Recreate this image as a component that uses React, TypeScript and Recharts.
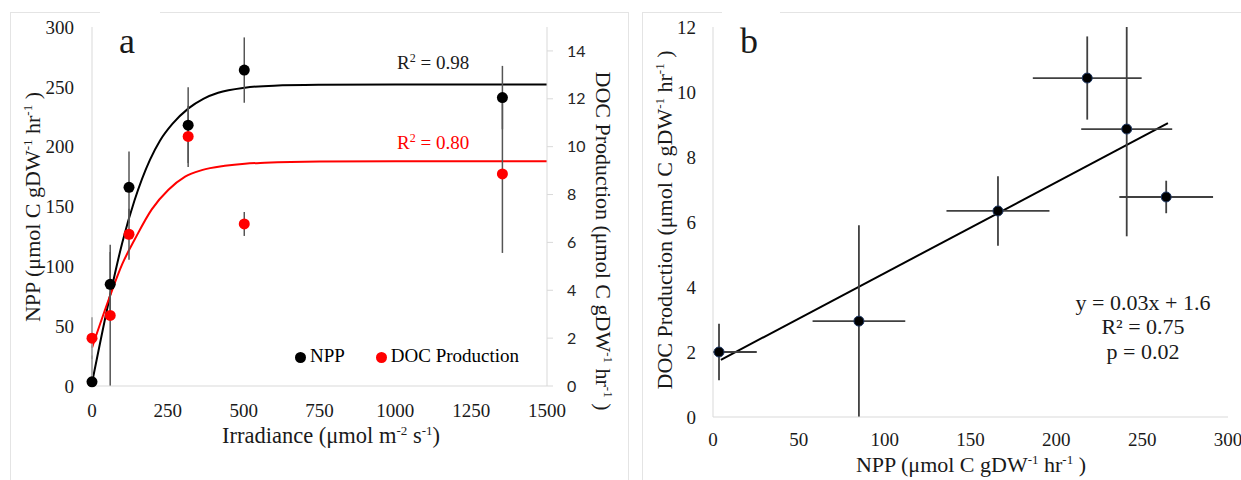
import React from 'react';
import { ComposedChart, Scatter, Line, XAxis, YAxis, ErrorBar, Legend, Customized } from 'recharts';

// ---------- data ----------
const irradiance = [0, 60, 122, 317, 502, 1353];
const nppValues = [3.5, 85, 166, 218, 264, 241];
const nppErrors = [22, 27, 30, 31.7, 27.3, 26.5];
const docValues = [2.0, 2.95, 6.34, 10.43, 6.77, 8.86];
const docErrors = [0.87, 2.95, 1.07, 1.28, 0.5, 3.3];

const nppCurveIrr = [0, 59, 100, 140, 191, 224, 265, 318, 367, 416, 504, 600, 750, 1000, 1500];
const nppCurveVal = [2.5, 75, 120, 155, 189, 205, 219, 232, 240, 245, 249.3, 251, 251.7, 252, 252];
const docCurveIrr = [0, 59, 100, 142, 197, 252, 307, 362, 438, 504, 570, 750, 1000, 1500];
const docCurveVal = [1.6, 3.75, 5.1, 6.15, 7.38, 8.2, 8.75, 9.02, 9.2, 9.29, 9.33, 9.38, 9.39, 9.39];

const trendNpp = [4.6, 265];
const trendDoc = [1.76, 9.04];

const irrTicks = [0, 250, 500, 750, 1000, 1250, 1500];
const nppTicks = [0, 50, 100, 150, 200, 250, 300];
const docTicks = [0, 2, 4, 6, 8, 10, 12, 14];
const bXTicks = [0, 50, 100, 150, 200, 250, 300];
const bYTicks = [0, 2, 4, 6, 8, 10, 12];

const legendOrder = ['NPP', 'DOC Production'];

const A_NPP_MAX = 300;
const A_DOC_MAX = 15;
const B_X_MAX = 300;
const B_Y_MAX = 12;

// ---------- tables built from the arrays ----------
const clampErr = (v: number, e: number, lo: number, hi: number) => [Math.min(e, v - lo), Math.min(e, hi - v)];

const panelAData = irradiance.map((irr, i) => ({
  irr,
  npp: nppValues[i],
  doc: docValues[i],
  nppErr: clampErr(nppValues[i], nppErrors[i], 0, A_NPP_MAX),
  docErr: clampErr(docValues[i], docErrors[i], 0, A_DOC_MAX),
}));
const nppCurve = nppCurveIrr.map((irr, i) => ({ irr, npp: nppCurveVal[i] }));
const docCurve = docCurveIrr.map((irr, i) => ({ irr, doc: docCurveVal[i] }));

const panelBData = nppValues.map((npp, i) => ({
  npp,
  doc: docValues[i],
  nppErr: clampErr(npp, nppErrors[i], 0, B_X_MAX),
  docErr: clampErr(docValues[i], docErrors[i], 0, B_Y_MAX),
}));
const trendData = trendNpp.map((npp, i) => ({ npp, doc: trendDoc[i] }));

// ---------- styles ----------
const SERIF = "'Liberation Serif', 'Times New Roman', serif";
const SANS = "Lato, 'Liberation Sans', sans-serif";
const AXIS_GRAY = '#d9d9d9';
const TEXT = '#1a1a1a';

const AnnotA = () => (
  <g fontFamily={SERIF} fill={TEXT}>
    <text x={119} y={53} fontSize={36}>a</text>
    <text x={397} y={69} fontSize={19}>
      R<tspan dy={-7} fontSize={12}>2</tspan><tspan dy={7}> = 0.98</tspan>
    </text>
    <text x={397} y={149} fontSize={19} fill="#ff0000">
      R<tspan dy={-7} fontSize={12}>2</tspan><tspan dy={7}> = 0.80</tspan>
    </text>
    <text transform="translate(40,207) rotate(-90)" textAnchor="middle" fontSize={22}>
      NPP (μmol C gDW<tspan dy={-8} fontSize={13}>-1</tspan><tspan dy={8}> hr</tspan>
      <tspan dy={-8} fontSize={13}>-1</tspan><tspan dy={8}> )</tspan>
    </text>
    <text x={331} y={443} textAnchor="middle" fontSize={22.5}>
      Irradiance (μmol m<tspan dy={-8} fontSize={13}>-2</tspan><tspan dy={8}> s</tspan>
      <tspan dy={-8} fontSize={13}>-1</tspan><tspan dy={8}>)</tspan>
    </text>
    <text transform="translate(596,241) rotate(90)" textAnchor="middle" fontSize={22}>
      DOC Production (μmol C gDW<tspan dy={-8} fontSize={13}>-1</tspan><tspan dy={8}> hr</tspan>
      <tspan dy={-8} fontSize={13}>-1</tspan><tspan dy={8}> )</tspan>
    </text>
  </g>
);

const AnnotB = () => (
  <g fontFamily={SERIF} fill={TEXT}>
    <text x={110} y={53} fontSize={36}>b</text>
    <text x={513} y={310} textAnchor="middle" fontSize={22}>y = 0.03x + 1.6</text>
    <text x={513} y={334} textAnchor="middle" fontSize={22}>R² = 0.75</text>
    <text x={513} y={359} textAnchor="middle" fontSize={22}>p = 0.02</text>
    <text transform="translate(42,220) rotate(-90)" textAnchor="middle" fontSize={22}>
      DOC Production (μmol C gDW<tspan dy={-8} fontSize={13}>-1</tspan><tspan dy={8}> hr</tspan>
      <tspan dy={-8} fontSize={13}>-1</tspan><tspan dy={8}> )</tspan>
    </text>
    <text x={341} y={472} textAnchor="middle" fontSize={22}>
      NPP (μmol C gDW<tspan dy={-8} fontSize={13}>-1</tspan><tspan dy={8}> hr</tspan>
      <tspan dy={-8} fontSize={13}>-1</tspan><tspan dy={8}> )</tspan>
    </text>
  </g>
);

const dotA = (color: string) => (p: any) => <circle cx={p.cx} cy={p.cy} r={5.5} fill={color} />;
const dotB = (p: any) => <circle cx={p.cx} cy={p.cy} r={5} fill="#000" stroke="#1f3864" strokeWidth={1} />;

export default function App() {
  return (
    <div style={{ position: 'absolute', left: 0, top: 0, width: 1241, height: 480, background: '#fff', overflow: 'hidden' }}>
      {/* chart-area frames */}
      <div style={{ position: 'absolute', left: 10, top: 12, width: 619, height: 480, border: '1px solid #e4e4e4', boxSizing: 'border-box' }} />
      <div style={{ position: 'absolute', left: 642, top: 12, width: 620, height: 480, border: '1px solid #e4e4e4', boxSizing: 'border-box' }} />
      <div style={{ position: 'absolute', left: 100, top: 8, width: 60, height: 8, background: '#fff' }} />
      <div style={{ position: 'absolute', left: 722, top: 8, width: 58, height: 8, background: '#fff' }} />

      <div style={{ position: 'absolute', left: 0, top: 0 }}>
        <ComposedChart width={630} height={480} margin={{ top: 27, right: 38, bottom: 54, left: 0 }}>
          <XAxis
            type="number"
            dataKey="irr"
            domain={[0, 1500]}
            ticks={irrTicks}
            interval={0}
            height={40}
            axisLine={{ stroke: AXIS_GRAY }}
            tickLine={false}
            tickMargin={12}
            tick={{ fontFamily: SERIF, fontSize: 19, fill: TEXT }}
          />
          <YAxis
            yAxisId="left"
            type="number"
            domain={[0, A_NPP_MAX]}
            ticks={nppTicks}
            interval={0}
            width={92}
            axisLine={{ stroke: AXIS_GRAY }}
            tickLine={false}
            tickMargin={12}
            tick={{ fontFamily: SERIF, fontSize: 19, fill: TEXT }}
          />
          <YAxis
            yAxisId="right"
            orientation="right"
            type="number"
            domain={[0, A_DOC_MAX]}
            ticks={docTicks}
            interval={0}
            width={45}
            axisLine={{ stroke: AXIS_GRAY }}
            tickLine={{ stroke: AXIS_GRAY }}
            tickSize={6}
            tickMargin={14}
            tick={{ fontFamily: SANS, fontSize: 16, fill: '#262626' }}
          />
          <Line data={nppCurve} dataKey="npp" yAxisId="left" type="monotone" dot={false} stroke="#000" strokeWidth={2} legendType="none" isAnimationActive={false} />
          <Line data={docCurve} dataKey="doc" yAxisId="right" type="monotone" dot={false} stroke="#ff0000" strokeWidth={2} legendType="none" isAnimationActive={false} />
          <Scatter name="NPP" data={panelAData} dataKey="npp" yAxisId="left" fill="#000" shape={dotA('#000')} isAnimationActive={false}>
            <ErrorBar dataKey="nppErr" direction="y" width={0} stroke="#555" strokeWidth={1.5} />
          </Scatter>
          <Scatter name="DOC Production" data={panelAData} dataKey="doc" yAxisId="right" fill="#ff0000" shape={dotA('#ff0000')} isAnimationActive={false}>
            <ErrorBar dataKey="docErr" direction="y" width={0} stroke="#555" strokeWidth={1.5} />
          </Scatter>
          <Legend
            layout="horizontal"
            verticalAlign="middle"
            align="center"
            iconSize={11}
            itemSorter={(item: any) => legendOrder.indexOf(item.value)}
            formatter={(value: any) => <span style={{ color: '#000', marginRight: 21 }}>{value}</span>}
            wrapperStyle={{ left: 295, top: 345, width: 'auto', height: 28, fontFamily: SERIF, fontSize: 19, textAlign: 'left' }}
          />
          <Customized component={<AnnotA />} />
        </ComposedChart>
      </div>

      <div style={{ position: 'absolute', left: 630, top: 0 }}>
        <ComposedChart width={611} height={480} margin={{ top: 27, right: 13, bottom: 23, left: 0 }}>
          <XAxis
            type="number"
            dataKey="npp"
            domain={[0, B_X_MAX]}
            ticks={bXTicks}
            interval={0}
            height={40}
            axisLine={{ stroke: AXIS_GRAY }}
            tickLine={false}
            tickMargin={10}
            tick={{ fontFamily: SERIF, fontSize: 19, fill: TEXT }}
          />
          <YAxis
            type="number"
            domain={[0, B_Y_MAX]}
            ticks={bYTicks}
            interval={0}
            width={83}
            axisLine={{ stroke: AXIS_GRAY }}
            tickLine={false}
            tickMargin={11}
            tick={{ fontFamily: SERIF, fontSize: 19, fill: TEXT }}
          />
          <Line data={trendData} dataKey="doc" type="linear" dot={false} stroke="#000" strokeWidth={2} legendType="none" isAnimationActive={false} />
          <Scatter name="DOC vs NPP" data={panelBData} dataKey="doc" fill="#000" shape={dotB} isAnimationActive={false}>
            <ErrorBar dataKey="nppErr" direction="x" width={0} stroke="#404040" strokeWidth={1.8} />
            <ErrorBar dataKey="docErr" direction="y" width={0} stroke="#404040" strokeWidth={1.8} />
          </Scatter>
          <Customized component={<AnnotB />} />
        </ComposedChart>
      </div>
    </div>
  );
}
